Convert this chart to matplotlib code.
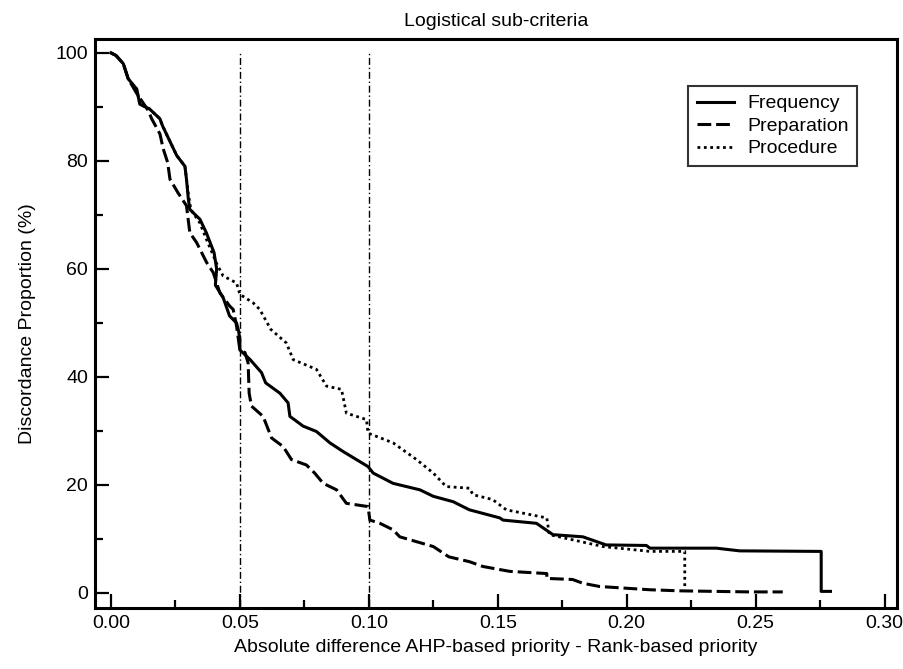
import matplotlib.pyplot as plt

# values (step curves, % of cases above x)
freq_x = [0.000, 0.002, 0.0048, 0.0067, 0.010, 0.0112, 0.015, 0.019, 0.020, 0.023,
          0.0255, 0.0287, 0.0293, 0.030, 0.0306, 0.0345, 0.037, 0.040, 0.041, 0.0405,
          0.0435, 0.046, 0.0487, 0.0495, 0.050, 0.050, 0.054, 0.0584, 0.060, 0.0655,
          0.0687, 0.0694, 0.0745, 0.0797, 0.0849, 0.090, 0.0952, 0.0997, 0.1017, 0.1094,
          0.1198, 0.125, 0.1327, 0.139, 0.1508, 0.152, 0.165, 0.1714, 0.183, 0.192,
          0.2076, 0.209, 0.2347, 0.2438, 0.2754, 0.2754, 0.279]
freq_y = [100, 99.5, 98, 95.2, 93.3, 90.5, 89.6, 87.8, 86.5, 83.5,
          81, 79, 76.6, 73, 71, 69.2, 66.7, 63, 60, 57,
          54.7, 51.3, 50, 48.5, 47, 45, 43.2, 40.8, 38.9, 37,
          35.2, 32.7, 30.9, 29.9, 27.8, 26.2, 24.7, 23.4, 22.2, 20.3,
          19.1, 17.9, 16.9, 15.4, 13.9, 13.5, 12.9, 10.8, 10.4, 8.9,
          8.8, 8.3, 8.3, 7.8, 7.7, 0.3, 0.3]

prep_x = [0.000, 0.002, 0.0048, 0.0067, 0.010, 0.0145, 0.0158, 0.019, 0.0203, 0.022,
          0.0229, 0.026, 0.0293, 0.0306, 0.0332, 0.0371, 0.0397, 0.0422, 0.0461, 0.0474,
          0.0487, 0.050, 0.052, 0.0532, 0.0536, 0.0545, 0.059, 0.0623, 0.0668, 0.070,
          0.0758, 0.079, 0.0823, 0.0875, 0.0913, 0.0997, 0.1004, 0.1043, 0.1094, 0.112,
          0.1185, 0.125, 0.131, 0.139, 0.1443, 0.1547, 0.169, 0.169, 0.179, 0.183,
          0.1895, 0.209, 0.2205, 0.2477, 0.2605]
prep_y = [100, 99.5, 98, 95.2, 92.5, 89.3, 87.8, 85, 82.2, 79.7,
          76.6, 74.1, 71.7, 66.7, 64.9, 61.2, 59.3, 55.6, 53.1, 52.5,
          49.5, 45, 44.5, 42.6, 37, 34.6, 32.7, 28.7, 27.1, 24.7,
          23.7, 22.2, 20.3, 19.1, 16.6, 16.0, 13.5, 12.9, 11.7, 10.4,
          9.5, 8.6, 6.7, 5.8, 4.9, 4.0, 3.6, 2.7, 2.5, 1.8,
          1.2, 0.6, 0.4, 0.2, 0.2]

proc_x = [0.000, 0.002, 0.0048, 0.0067, 0.010, 0.0112, 0.015, 0.019, 0.020, 0.023,
          0.0255, 0.0287, 0.030, 0.031, 0.0345, 0.037, 0.041, 0.0435, 0.0487, 0.050,
          0.0552, 0.0577, 0.062, 0.068, 0.0707, 0.0797, 0.0836, 0.0894, 0.0913, 0.0991,
          0.0997, 0.1094, 0.1185, 0.125, 0.130, 0.139, 0.1404, 0.148, 0.1533, 0.169,
          0.170, 0.1908, 0.209, 0.2225, 0.2225]
proc_y = [100, 99.5, 98, 95.2, 93.3, 90.5, 89.6, 87.8, 86.5, 83.5,
          81, 79, 74, 71, 68.5, 65.5, 61, 58.7, 57.4, 55.3,
          53.7, 52.5, 48.8, 46.3, 43.2, 41.4, 38.3, 37.7, 33.3, 32.1,
          29.6, 27.8, 24.7, 22.2, 19.7, 19.4, 18.2, 17.3, 15.4, 13.9,
          10.8, 8.6, 7.7, 7.7, 1.0]

cutoffs = [0.05, 0.10]
x_ticks = [0.00, 0.05, 0.10, 0.15, 0.20, 0.25, 0.30]
y_ticks = [0, 20, 40, 60, 80, 100]

plt.rcParams['font.family'] = ['Liberation Sans', 'DejaVu Sans']
plt.rcParams['font.size'] = 14

fig = plt.figure(figsize=(9.04, 6.69), dpi=100)
ax = fig.add_axes([0.105, 0.091, 0.887, 0.851])

ax.plot(freq_x, freq_y, color='black', lw=2.2, linestyle='-',
        label='Frequency')
ax.plot(prep_x, prep_y, color='black', lw=2.2, linestyle=(0, (4.5, 1.6)),
        label='Preparation')
ax.plot(proc_x, proc_y, color='black', lw=2.0, linestyle=(0, (1, 1.3)),
        label='Procedure')

# cut-off reference lines
for c in cutoffs:
    ax.vlines(c, -5, 100, color='black', lw=1.0,
              linestyle=(0, (5, 2, 1, 2)))

ax.set_xlim(-0.0062, 0.3047)
ax.set_ylim(-2.8, 102.6)
ax.set_xticks(x_ticks)
ax.set_xticklabels(['%.2f' % v for v in x_ticks])
ax.set_xticks([0.025, 0.075, 0.125, 0.175, 0.225, 0.275], minor=True)
ax.set_yticks(y_ticks)
ax.set_yticks([10, 30, 50, 70, 90], minor=True)
ax.tick_params(which='major', direction='in', length=10, width=1.6,
               top=False, right=False, labelsize=14, pad=5)
ax.tick_params(which='minor', direction='in', length=6, width=1.6,
               top=False, right=False)
for s in ax.spines.values():
    s.set_linewidth(2.2)

ax.set_title('Logistical sub-criteria', fontsize=14, pad=9)
ax.set_xlabel('Absolute difference AHP-based priority - Rank-based priority',
              fontsize=14, labelpad=5)
ax.set_ylabel('Discordance Proportion (%)', fontsize=14, labelpad=14)

leg = ax.legend(loc='upper right', bbox_to_anchor=(0.951, 0.917),
                borderaxespad=0, fancybox=False, frameon=True,
                handlelength=1.9, handletextpad=0.7, labelspacing=0.25,
                borderpad=0.45, fontsize=14)
leg.get_frame().set_edgecolor('black')
leg.get_frame().set_linewidth(1.5)

fig.savefig('out.png', dpi=100)
